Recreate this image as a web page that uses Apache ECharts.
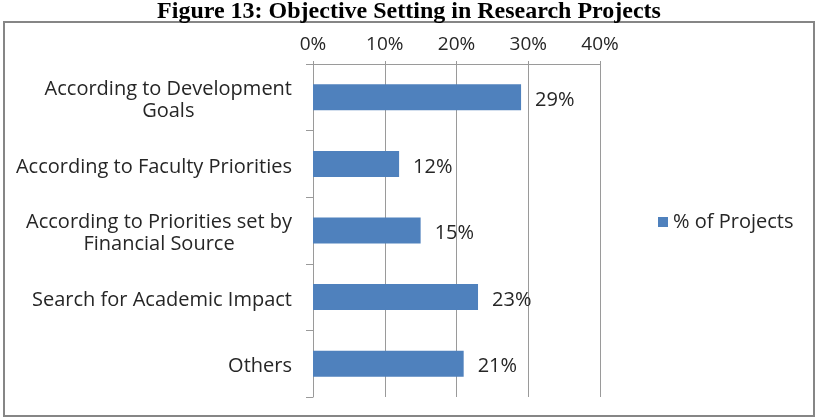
<!DOCTYPE html>
<html>
<head>
<meta charset="utf-8">
<script src="https://cdn.jsdelivr.net/npm/echarts@6/dist/echarts.min.js"></script>
<style>
  html, body { margin: 0; padding: 0; background: #fff; }
  #chart { width: 816px; height: 418px; }
</style>
</head>
<body>
<div id="chart"></div>
<script>
// data
const categories = [
  "According to Development\nGoals",
  "According to Faculty Priorities",
  "According to Priorities set by\nFinancial Source",
  "Search for Academic Impact",
  "Others"
];
const projectShare = [29, 12, 15, 23, 21];
const seriesName = "% of Projects";
const titleText = "Figure 13: Objective Setting in Research Projects";

const labelFont = "'Open Sans', 'Noto Sans', sans-serif";
const textColor = "#262626";

const chart = echarts.init(document.getElementById("chart"));
const option = {
  animation: false,
  textStyle: { fontFamily: labelFont },
  graphic: [
    {
      type: "rect",
      shape: { x: 4, y: 22, width: 810, height: 394 },
      style: { fill: "none", stroke: "#868686", lineWidth: 2 }
    },
    {
      type: "text",
      x: 409,
      y: 24,
      style: {
        text: titleText,
        font: "bold 24px 'Liberation Serif', 'Times New Roman', serif",
        fill: "#000",
        textAlign: "center",
        textVerticalAlign: "bottom"
      }
    }
  ],
  legend: {
    data: [seriesName],
    left: 653,
    top: 207,
    itemWidth: 10,
    itemHeight: 10,
    icon: "rect",
    textStyle: { fontSize: 20, color: textColor, fontFamily: labelFont }
  },
  grid: { left: 313, right: 216, top: 64, bottom: 21 },
  xAxis: {
    type: "value",
    position: "top",
    min: 0,
    max: 40,
    interval: 10,
    axisLine: { show: true, lineStyle: { color: "#9a9a9a" } },
    axisTick: { show: true, length: 3, lineStyle: { color: "#9a9a9a" } },
    splitLine: { show: true, lineStyle: { color: "#9a9a9a" } },
    axisLabel: { formatter: "{value}%", fontSize: 19, color: textColor, margin: 10 }
  },
  yAxis: {
    type: "category",
    inverse: true,
    data: categories,
    axisLine: { show: true, lineStyle: { color: "#9a9a9a" } },
    axisTick: { show: true, length: 7, lineStyle: { color: "#9a9a9a" } },
    axisLabel: {
      margin: 21,
      color: textColor,
      fontSize: 20,
      lineHeight: 22,
      padding: [6, 0, 0, 0],
      formatter: v => v.split("\n").map(s => "{c|" + s + "}").join("\n"),
      rich: { c: { align: "center", fontSize: 20, color: textColor, lineHeight: 22 } }
    }
  },
  series: [
    {
      name: seriesName,
      type: "bar",
      data: projectShare,
      barWidth: 26,
      itemStyle: { color: "#4f81bd" },
      label: {
        show: true,
        position: "right",
        distance: 14,
        offset: [0, 3],
        formatter: "{c}%",
        fontSize: 20,
        color: textColor
      }
    }
  ]
};
chart.setOption(option);
</script>
</body>
</html>
